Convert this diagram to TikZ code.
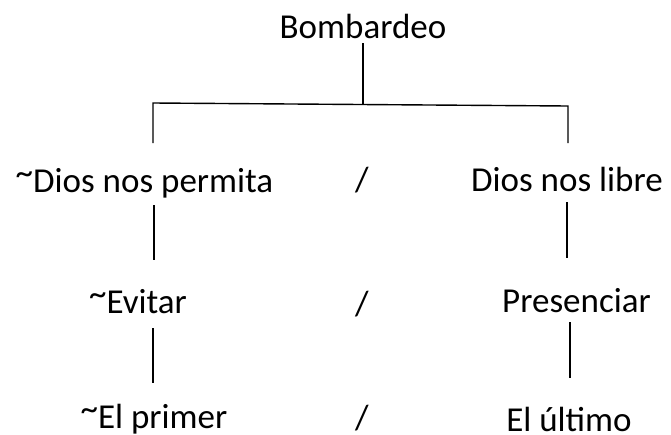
\documentclass[tikz,border=0pt]{standalone}
\usepackage{fontspec}
\setmainfont{Carlito}
\newcommand{\hightilde}{\raisebox{8pt}{\textasciitilde}}
\begin{document}
\begin{tikzpicture}[x=1pt, y=-1pt, line width=1.4pt,
    word/.style={anchor=base, inner sep=0pt, font=\fontsize{35}{40}\selectfont}]
    \useasboundingbox (0, 0) rectangle (671, 434);
    % Labels
    \node[word] (root) at (363, 38) {Bombardeo};
    \node[word] (permita) at (144.5, 192) {\hightilde Dios nos permita};
    \node[word] (slashA) at (362, 191) {/};
    \node[word] (libre) at (567, 191) {Dios nos libre};
    \node[word] (evitar) at (138, 313) {\hightilde Evitar};
    \node[word] (slashB) at (362, 315) {/};
    \node[word] (presenciar) at (576.5, 312) {Presenciar};
    \node[word] (primer) at (154, 428) {\hightilde El primer};
    \node[word] (slashC) at (362, 429) {/};
    \node[word] (ultimo) at (569, 431) {El último};
    % Bracket
    \coordinate (barL) at (153, 103);
    \coordinate (barM) at (363, 104.5);
    \coordinate (barR) at (568, 106);
    \coordinate (legL) at (153, 143);
    \coordinate (legR) at (568, 143);
    \draw[] ([yshift=-5pt]root.base) -- (barM);
    \draw[] (legL) -- (barL) -- (barR) -- (legR);
    % Left column
    \coordinate (leftA) at (154, 205);
    \coordinate (leftB) at (154, 260);
    \coordinate (leftC) at (153, 328);
    \coordinate (leftD) at (153, 383);
    \draw[] (leftA) -- (leftB);
    \draw[] (leftC) -- (leftD);
    % Right column
    \coordinate (rightA) at (567, 202);
    \coordinate (rightB) at (567, 258);
    \coordinate (rightC) at (570, 322);
    \coordinate (rightD) at (570, 378);
    \draw[] (rightA) -- (rightB);
    \draw[] (rightC) -- (rightD);
\end{tikzpicture}
\end{document}
